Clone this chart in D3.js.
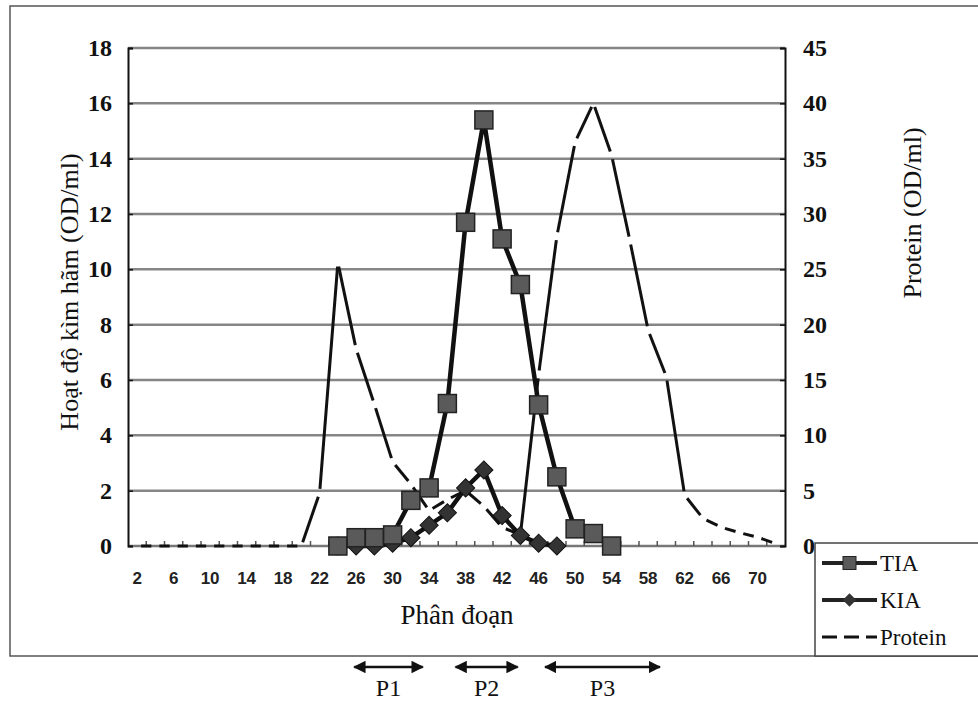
<!DOCTYPE html>
<html>
<head>
<meta charset="utf-8">
<script src="https://cdnjs.cloudflare.com/ajax/libs/d3/7.8.5/d3.min.js"></script>
<style>
  body { margin: 0; background: #fff; }
  svg { display: block; }
  .serif { font-family: "Liberation Serif", "Times New Roman", serif; }
  .sans { font-family: "Liberation Sans", Arial, sans-serif; }
</style>
</head>
<body>
<svg width="978" height="701"></svg>
<script>
// fractions (Phân đoạn)
var fractions = [2, 4, 6, 8, 10, 12, 14, 16, 18, 20, 22, 24, 26, 28, 30, 32, 34, 36,
                 38, 40, 42, 44, 46, 48, 50, 52, 54, 56, 58, 60, 62, 64, 66, 68, 70, 72];
var xLabels = [2, 6, 10, 14, 18, 22, 26, 30, 34, 38, 42, 46, 50, 54, 58, 62, 66, 70];

// TIA, fractions 24 -> 54
var tiaFractions = [24, 26, 28, 30, 32, 34, 36, 38, 40, 42, 44, 46, 48, 50, 52, 54];
var tiaValues = [0, 0.3, 0.3, 0.4, 1.65, 2.1, 5.15, 11.7, 15.4, 11.1, 9.45, 5.1, 2.5, 0.62, 0.45, 0];

// KIA, fractions 24 -> 48
var kiaFractions = [24, 26, 28, 30, 32, 34, 36, 38, 40, 42, 44, 46, 48];
var kiaValues = [0, 0, 0, 0.1, 0.3, 0.75, 1.2, 2.1, 2.75, 1.1, 0.38, 0.1, 0];

// Protein, all fractions (right axis)
var proteinValues = [0, 0, 0, 0, 0, 0, 0, 0, 0, 0, 4.8, 25.6, 17.8, 12.8, 7.6, 5.6, 3.2, 4.2,
                     5.0, 3.6, 1.7, 1.0, 15.5, 28, 36.5, 40, 35.3, 27.6, 19.5, 15.3, 4.6, 2.5,
                     1.7, 1.2, 0.8, 0.2];

var leftTicks = [0, 2, 4, 6, 8, 10, 12, 14, 16, 18];
var rightTicks = [0, 5, 10, 15, 20, 25, 30, 35, 40, 45];

// P1 / P2 / P3 ranges, in fraction units
var pools = ['P1', 'P2', 'P3'];
var poolStart = [25.8, 36.9, 46.7];
var poolEnd = [33.3, 43.7, 59.3];

var svg = d3.select('svg'),
    plotL = 128, plotR = 785, plotT = 48, plotB = 546;

var x = d3.scaleBand()
    .domain(fractions)
    .range([plotL, plotR]);

// continuous version of the fraction axis (for the P arrows)
var xf = d3.scaleLinear()
    .domain([1, 73])
    .range([plotL, plotR]);

var y = d3.scaleLinear().domain([0, 18]).range([plotB, plotT]);
var y2 = d3.scaleLinear().domain([0, 45]).range([plotB, plotT]);

function cx(f) { return x(f) + x.bandwidth() / 2; }

// outer frame
svg.append('rect')
    .attr('x', 10).attr('y', 6)
    .attr('width', 990).attr('height', 650)
    .attr('fill', 'none')
    .attr('stroke', '#555')
    .attr('stroke-width', 1.5);

// gridlines
svg.append('g')
    .selectAll('line')
    .data(leftTicks.slice(1))
    .enter()
    .append('line')
    .attr('x1', plotL).attr('x2', plotR)
    .attr('y1', function(d) { return y(d); })
    .attr('y2', function(d) { return y(d); })
    .attr('stroke', '#858585')
    .attr('stroke-width', 2.5);

// x axis line + inside ticks
svg.append('line')
    .attr('x1', plotL).attr('x2', plotR)
    .attr('y1', plotB).attr('y2', plotB)
    .attr('stroke', '#777')
    .attr('stroke-width', 2.5);

svg.append('g')
    .selectAll('line')
    .data(fractions.slice(1))
    .enter()
    .append('line')
    .attr('x1', function(d) { return x(d); })
    .attr('x2', function(d) { return x(d); })
    .attr('y1', plotB).attr('y2', plotB - 5)
    .attr('stroke', '#555')
    .attr('stroke-width', 1.5);

// left + right axis
var yAxis = d3.axisRight(y).tickValues(leftTicks).tickSize(5).tickFormat('');
svg.append('g')
    .attr('transform', 'translate(' + plotL + ',0)')
    .call(yAxis)
    .call(function(g) {
        g.select('.domain').attr('stroke', '#111').attr('stroke-width', 2);
        g.selectAll('.tick line').attr('stroke', '#111').attr('stroke-width', 1.5);
    });

var y2Axis = d3.axisLeft(y2).tickValues(rightTicks).tickSize(5).tickFormat('');
svg.append('g')
    .attr('transform', 'translate(' + plotR + ',0)')
    .call(y2Axis)
    .call(function(g) {
        g.select('.domain').attr('stroke', '#111').attr('stroke-width', 2);
        g.selectAll('.tick line').attr('stroke', '#111').attr('stroke-width', 1.5);
    });

// tick labels
svg.append('g')
    .selectAll('text')
    .data(leftTicks)
    .enter()
    .append('text')
    .attr('class', 'serif')
    .attr('x', 112)
    .attr('y', function(d) { return y(d) + 8; })
    .attr('text-anchor', 'end')
    .attr('font-size', 24)
    .attr('font-weight', 'bold')
    .attr('fill', '#111')
    .text(function(d) { return d; });

svg.append('g')
    .selectAll('text')
    .data(rightTicks)
    .enter()
    .append('text')
    .attr('class', 'serif')
    .attr('x', 803)
    .attr('y', function(d) { return y2(d) + 8; })
    .attr('font-size', 24)
    .attr('font-weight', 'bold')
    .attr('fill', '#111')
    .text(function(d) { return d; });

svg.append('g')
    .selectAll('text')
    .data(xLabels)
    .enter()
    .append('text')
    .attr('class', 'sans')
    .attr('x', function(d) { return cx(d); })
    .attr('y', 584)
    .attr('text-anchor', 'middle')
    .attr('font-size', 17)
    .attr('font-weight', 'bold')
    .attr('fill', '#222')
    .text(function(d) { return d; });

// axis titles
svg.append('text')
    .attr('class', 'serif')
    .attr('transform', 'translate(78,292) rotate(-90)')
    .attr('text-anchor', 'middle')
    .attr('font-size', 26)
    .attr('fill', '#111')
    .text('Hoạt độ kìm hãm (OD/ml)');

svg.append('text')
    .attr('class', 'serif')
    .attr('transform', 'translate(921,213) rotate(-90)')
    .attr('text-anchor', 'middle')
    .attr('font-size', 26)
    .attr('fill', '#111')
    .text('Protein (OD/ml)');

svg.append('text')
    .attr('class', 'serif')
    .attr('x', 457)
    .attr('y', 624)
    .attr('text-anchor', 'middle')
    .attr('font-size', 27)
    .attr('fill', '#111')
    .text('Phân đoạn');

// protein: dashed, one segment at a time, gap around each vertex
var proteinPts = fractions.map(function(f, i) { return [cx(f), y2(proteinValues[i])]; });
var segs = d3.pairs(proteinPts);
svg.append('g')
    .selectAll('line')
    .data(segs)
    .enter()
    .append('line')
    .attr('x1', function(d) { return d[0][0]; })
    .attr('y1', function(d) { return d[0][1]; })
    .attr('x2', function(d) { return d[1][0]; })
    .attr('y2', function(d) { return d[1][1]; })
    .attr('stroke', '#111')
    .attr('stroke-width', 3)
    .attr('stroke-dasharray', function(d) {
        var len = Math.hypot(d[1][0] - d[0][0], d[1][1] - d[0][1]);
        return Math.max(len - 8, 2) + ' 8';
    })
    .attr('stroke-dashoffset', function(d) {
        var len = Math.hypot(d[1][0] - d[0][0], d[1][1] - d[0][1]);
        return Math.max(len - 8, 2) + 4;
    });

var line = d3.line()
    .x(function(d) { return cx(d[0]); })
    .y(function(d) { return y(d[1]); });

// KIA
var kia = kiaFractions.map(function(f, i) { return [f, kiaValues[i]]; });
svg.append('path')
    .datum(kia)
    .attr('d', line)
    .attr('fill', 'none')
    .attr('stroke', '#111')
    .attr('stroke-width', 4.5);

svg.append('g')
    .selectAll('path')
    .data(kia)
    .enter()
    .append('path')
    .attr('d', d3.symbol().type(d3.symbolSquare).size(165))
    .attr('transform', function(d) { return 'translate(' + cx(d[0]) + ',' + y(d[1]) + ') rotate(45)'; })
    .attr('fill', '#333')
    .attr('stroke', '#111')
    .attr('stroke-width', 1);

// TIA
var tia = tiaFractions.map(function(f, i) { return [f, tiaValues[i]]; });
svg.append('path')
    .datum(tia)
    .attr('d', line)
    .attr('fill', 'none')
    .attr('stroke', '#111')
    .attr('stroke-width', 4.5);

svg.append('g')
    .selectAll('rect')
    .data(tia)
    .enter()
    .append('rect')
    .attr('x', function(d) { return cx(d[0]) - 9; })
    .attr('y', function(d) { return y(d[1]) - 9; })
    .attr('width', 18).attr('height', 18)
    .attr('fill', '#5a5a5a')
    .attr('stroke', '#222')
    .attr('stroke-width', 1.5);

// legend
var lg = svg.append('g');
lg.append('rect')
    .attr('x', 815).attr('y', 543)
    .attr('width', 175).attr('height', 113)
    .attr('fill', '#fff')
    .attr('stroke', '#444')
    .attr('stroke-width', 1.5);

var legendNames = ['TIA', 'KIA', 'Protein'];
var legendY = [563, 600, 637];
legendNames.forEach(function(name, i) {
    var ly = legendY[i];
    if (name === 'Protein') {
        lg.append('line')
            .attr('x1', 822).attr('x2', 877)
            .attr('y1', ly).attr('y2', ly)
            .attr('stroke', '#111').attr('stroke-width', 3)
            .attr('stroke-dasharray', '15 7');
    } else {
        lg.append('line')
            .attr('x1', 822).attr('x2', 877)
            .attr('y1', ly).attr('y2', ly)
            .attr('stroke', '#222').attr('stroke-width', 4);
        if (name === 'TIA') {
            lg.append('rect')
                .attr('x', 843).attr('y', ly - 6.5)
                .attr('width', 13).attr('height', 13)
                .attr('fill', '#5a5a5a').attr('stroke', '#222');
        } else {
            lg.append('path')
                .attr('d', d3.symbol().type(d3.symbolSquare).size(90))
                .attr('transform', 'translate(849.5,' + ly + ') rotate(45)')
                .attr('fill', '#333');
        }
    }
    lg.append('text')
        .attr('class', 'serif')
        .attr('x', 880)
        .attr('y', ly + 8)
        .attr('font-size', 23)
        .attr('fill', '#111')
        .text(name);
});

// P1 / P2 / P3 arrows under the chart
svg.append('defs').append('marker')
    .attr('id', 'head')
    .attr('viewBox', '0 0 10 10')
    .attr('refX', 9).attr('refY', 5)
    .attr('markerWidth', 5).attr('markerHeight', 5)
    .attr('orient', 'auto-start-reverse')
    .append('path')
    .attr('d', 'M0,0L10,5L0,10Z')
    .attr('fill', '#111');

var pg = svg.append('g')
    .selectAll('g')
    .data(pools)
    .enter()
    .append('g');

pg.append('line')
    .attr('x1', function(d, i) { return xf(poolStart[i]); })
    .attr('x2', function(d, i) { return xf(poolEnd[i]); })
    .attr('y1', 667).attr('y2', 667)
    .attr('stroke', '#111')
    .attr('stroke-width', 2.5)
    .attr('marker-start', 'url(#head)')
    .attr('marker-end', 'url(#head)');

pg.append('text')
    .attr('class', 'serif')
    .attr('x', function(d, i) { return (xf(poolStart[i]) + xf(poolEnd[i])) / 2; })
    .attr('y', 696)
    .attr('text-anchor', 'middle')
    .attr('font-size', 24)
    .attr('fill', '#111')
    .text(function(d) { return d; });
</script>
</body>
</html>
